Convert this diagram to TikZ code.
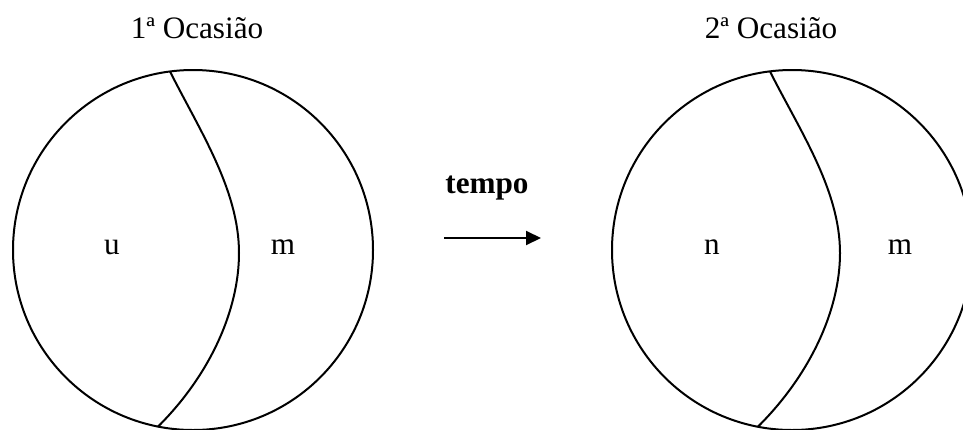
\documentclass[tikz,border=0pt]{standalone}
\usepackage{fontspec}
\setmainfont{Liberation Serif}
\usetikzlibrary{arrows.meta}
\begin{document}
\begin{tikzpicture}[x=0.5pt,y=-0.5pt,
  ring/.style={draw=black,line width=1pt},
  split/.style={draw=black,line width=1pt},
  lbl/.style={font=\fontsize{15.6pt}{18pt}\selectfont,anchor=base,inner sep=0pt},
  flow/.style={line width=1pt,-{Triangle[length=7.5pt,width=7pt]}}]
  \useasboundingbox (0,0) rectangle (963,429);
  \clip (0,0) rectangle (963,429);

  % first occasion
  \coordinate (c1) at (193,250);
  \draw[ring] (c1) circle[radius=180];
  \coordinate (t1) at (170,71.5);
  \coordinate (b1) at (158,426.6);
  \coordinate (m1) at (239,253);
  \draw[split] (t1) .. controls (200,131) and (239,190) .. (m1)
                    .. controls (239,310) and (210,375) .. (b1);
  \node[lbl] (title1) at (197,38) {1ª Ocasião};
  \node[lbl] (u1) at (112,254) {u};
  \node[lbl] (m1l) at (283,254) {m};

  % time arrow
  \node[lbl,font=\fontsize{15.6pt}{18pt}\selectfont\bfseries] (tempo) at (487,193) {tempo};
  \coordinate (a0) at (444,238);
  \coordinate (a1) at (541,238);
  \draw[flow] (a0) -- (a1);

  % second occasion
  \begin{scope}[shift={(599,0)}]
    \coordinate (c2) at (193,250);
    \draw[ring] (c2) circle[radius=180];
    \coordinate (t2) at (171,71.5);
    \coordinate (b2) at (159,426.6);
    \coordinate (m2) at (241,253);
    \draw[split] (t2) .. controls (201,131) and (241,190) .. (m2)
                      .. controls (241,310) and (211,375) .. (b2);
  \end{scope}
  \node[lbl] (title2) at (771,38) {2ª Ocasião};
  \node[lbl] (n2) at (712,254) {n};
  \node[lbl] (m2l) at (900,254) {m};
\end{tikzpicture}
\end{document}
